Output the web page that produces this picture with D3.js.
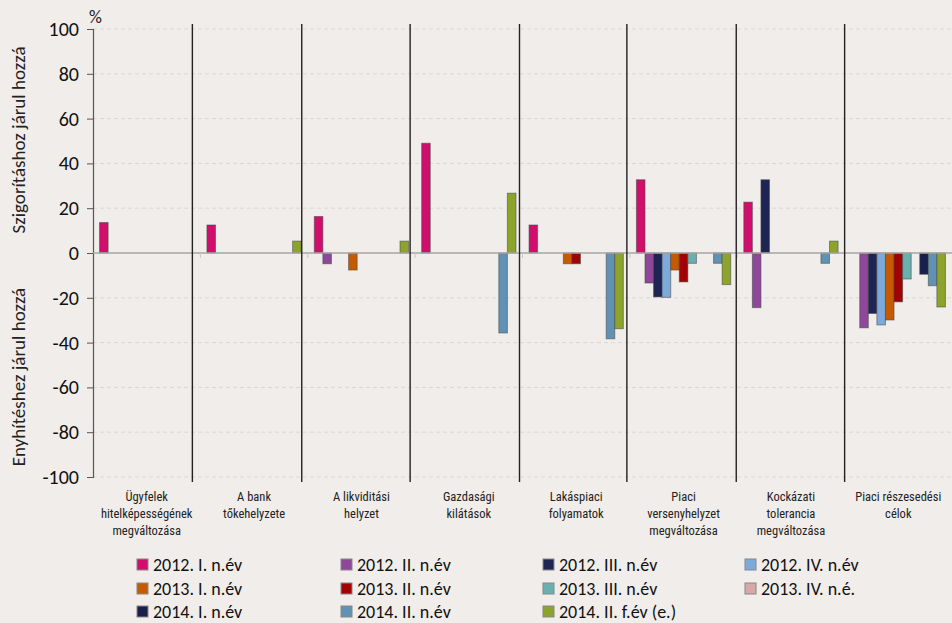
<!DOCTYPE html>
<html><head><meta charset="utf-8">
<script src="https://cdn.jsdelivr.net/npm/d3@7"></script>
<style>
html,body{margin:0;padding:0;background:#F0EDEA;}
svg{display:block;font-family:Carlito,Calibri,Lato,sans-serif;}
</style></head><body>
<svg id="c" width="952" height="623"></svg>
<script>
const categories = ["Ügyfelek\nhitelképességének\nmegváltozása","A bank\ntőkehelyzete","A likviditási\nhelyzet","Gazdasági\nkilátások","Lakáspiaci\nfolyamatok","Piaci\nversenyhelyzet\nmegváltozása","Kockázati\ntolerancia\nmegváltozása","Piaci részesedési\ncélok"];
const seriesNames = ["2012. I. n.év","2012. II. n.év","2012. III. n.év","2012. IV. n.év","2013. I. n.év","2013. II. n.év","2013. III. n.év","2013. IV. n.é.","2014. I. n.év","2014. II. n.év","2014. II. f.év (e.)"];
const seriesColors = ["#CF0F6B","#8D4899","#1F2553","#7DAADB","#C55A02","#A10203","#6CAFB1","#D6A9A8","#1A1F4B","#6192B4","#8CA42B"];
const v2012_1 = [13.6, 12.5, 16.3, 49.0, 12.5, 32.7, 22.7, 0];
const v2012_2 = [0, 0, -4.8, 0, 0, -13.4, -24.4, -33.4];
const v2012_3 = [0, 0, 0, 0, 0, -19.6, 32.7, -27.0];
const v2012_4 = [0, 0, 0, 0, 0, -19.8, 0, -32.1];
const v2013_1 = [0, 0, -7.6, 0, -4.8, -7.6, 0, -29.9];
const v2013_2 = [0, 0, 0, 0, -4.8, -12.9, 0, -21.8];
const v2013_3 = [0, 0, 0, 0, 0, -4.6, 0, -11.6];
const v2013_4 = [0, 0, 0, 0, 0, 0, 0, 0];
const v2014_1 = [0, 0, 0, 0, 0, 0, 0, -9.5];
const v2014_2 = [0, 0, 0, -35.7, -38.3, -4.6, -4.6, -14.6];
const v2014_2f = [0, 5.3, 5.3, 26.7, -33.8, -14.1, 5.3, -24.1];
const seriesValues = [v2012_1,v2012_2,v2012_3,v2012_4,v2013_1,v2013_2,v2013_3,v2013_4,v2014_1,v2014_2,v2014_2f];
const yTicks = [-100,-80,-60,-40,-20,0,20,40,60,80,100];

const svg = d3.select("#c");
const L = 93, R = 952, T = 29, B = 477;
const x = d3.scaleBand().domain(d3.range(categories.length)).range([L, R]).padding(0);
const step = x.bandwidth();
const xs = d3.scaleBand().domain(d3.range(seriesNames.length)).range([step*0.061, step*0.939]).padding(0);
const y = d3.scaleLinear().domain([-100, 100]).range([B, T]);

// gridlines
svg.append("g").selectAll("line").data(yTicks.filter(d => d !== 0)).join("line")
  .attr("x1", L).attr("x2", R).attr("y1", d => y(d)).attr("y2", d => y(d))
  .attr("stroke", "#DAD7D4").attr("stroke-width", 1).attr("stroke-dasharray", "4,3");

// y axis
const yAxis = svg.append("g").attr("transform", `translate(${L},0)`)
  .call(d3.axisLeft(y).tickValues(yTicks).tickSize(6).tickPadding(8).tickFormat(d => String(d)));
yAxis.select(".domain").attr("stroke", "#555").attr("stroke-width", 1.2);
yAxis.selectAll(".tick line").attr("stroke", "#555");
yAxis.selectAll(".tick text").attr("font-size", 20).attr("fill", "#111").attr("font-family", "Carlito,Calibri,Lato,sans-serif");

// bars
const groups = svg.append("g").selectAll("g").data(seriesValues).join("g")
  .attr("fill", (d, i) => seriesColors[i]);
groups.selectAll("rect").data((d, i) => d.map((v, c) => ({v, c, s: i})).filter(o => o.v !== 0)).join("rect")
  .attr("x", o => x(o.c) + xs(o.s))
  .attr("width", xs.bandwidth())
  .attr("y", o => y(Math.max(0, o.v)))
  .attr("height", o => Math.abs(y(o.v) - y(0)))
  .attr("stroke", "rgba(70,70,70,0.55)").attr("stroke-width", 1);

// zero line
svg.append("line").attr("x1", L).attr("x2", R).attr("y1", y(0)).attr("y2", y(0))
  .attr("stroke", "#A8A6A4").attr("stroke-width", 1.5);
// small category ticks on zero line
svg.append("g").selectAll("line").data(d3.range(1, categories.length)).join("line")
  .attr("x1", d => x(d)).attr("x2", d => x(d)).attr("y1", y(0)).attr("y2", y(0) + 5)
  .attr("stroke", "#C8C6C4").attr("stroke-width", 1);

// separators
const sepOffset = [-8, -6, -5, -3, -3, -1, 0];
svg.append("g").selectAll("line").data(d3.range(1, categories.length)).join("line")
  .attr("x1", d => x(d) + sepOffset[d - 1]).attr("x2", d => x(d) + sepOffset[d - 1]).attr("y1", 24).attr("y2", 482)
  .attr("stroke", "#222").attr("stroke-width", 1.4);

// category labels
const cl = svg.append("g").selectAll("text").data(categories).join("text")
  .attr("text-anchor", "middle").attr("font-size", 12.5).attr("fill", "#222")
  .attr("font-family", "'Liberation Sans Narrow','Roboto Condensed',Roboto,sans-serif")
  .attr("transform", (d, i) => `translate(${x(i) + step/2},${501})`);
cl.selectAll("tspan").data(d => d.split("\n")).join("tspan")
  .attr("x", 0).attr("dy", (d, i) => i === 0 ? 0 : 17).text(d => d);

// axis titles
svg.append("text").attr("transform", "translate(25,140) rotate(-90)").attr("text-anchor", "middle")
  .attr("font-size", 19).attr("fill", "#222").text("Szigorításhoz járul hozzá");
svg.append("text").attr("transform", "translate(25,377) rotate(-90)").attr("text-anchor", "middle")
  .attr("font-size", 19).attr("fill", "#222").text("Enyhítéshez járul hozzá");
svg.append("text").attr("x", 89).attr("y", 23).attr("font-size", 18).attr("fill", "#222").text("%");

// legend
const colX = [137, 341, 543, 745], rowY = [565, 589, 612];
const lg = svg.append("g").selectAll("g").data(seriesNames).join("g")
  .attr("transform", (d, i) => `translate(${colX[i % 4]},${rowY[Math.floor(i / 4)]})`);
lg.append("rect").attr("x", 0).attr("y", -6).attr("width", 11).attr("height", 11)
  .attr("fill", (d, i) => seriesColors[i]).attr("stroke", "#888").attr("stroke-width", 1);
lg.append("text").attr("x", 16).attr("y", 0).attr("dy", "0.35em").attr("font-size", 18).attr("fill", "#111").text(d => d);
</script>
</body></html>
